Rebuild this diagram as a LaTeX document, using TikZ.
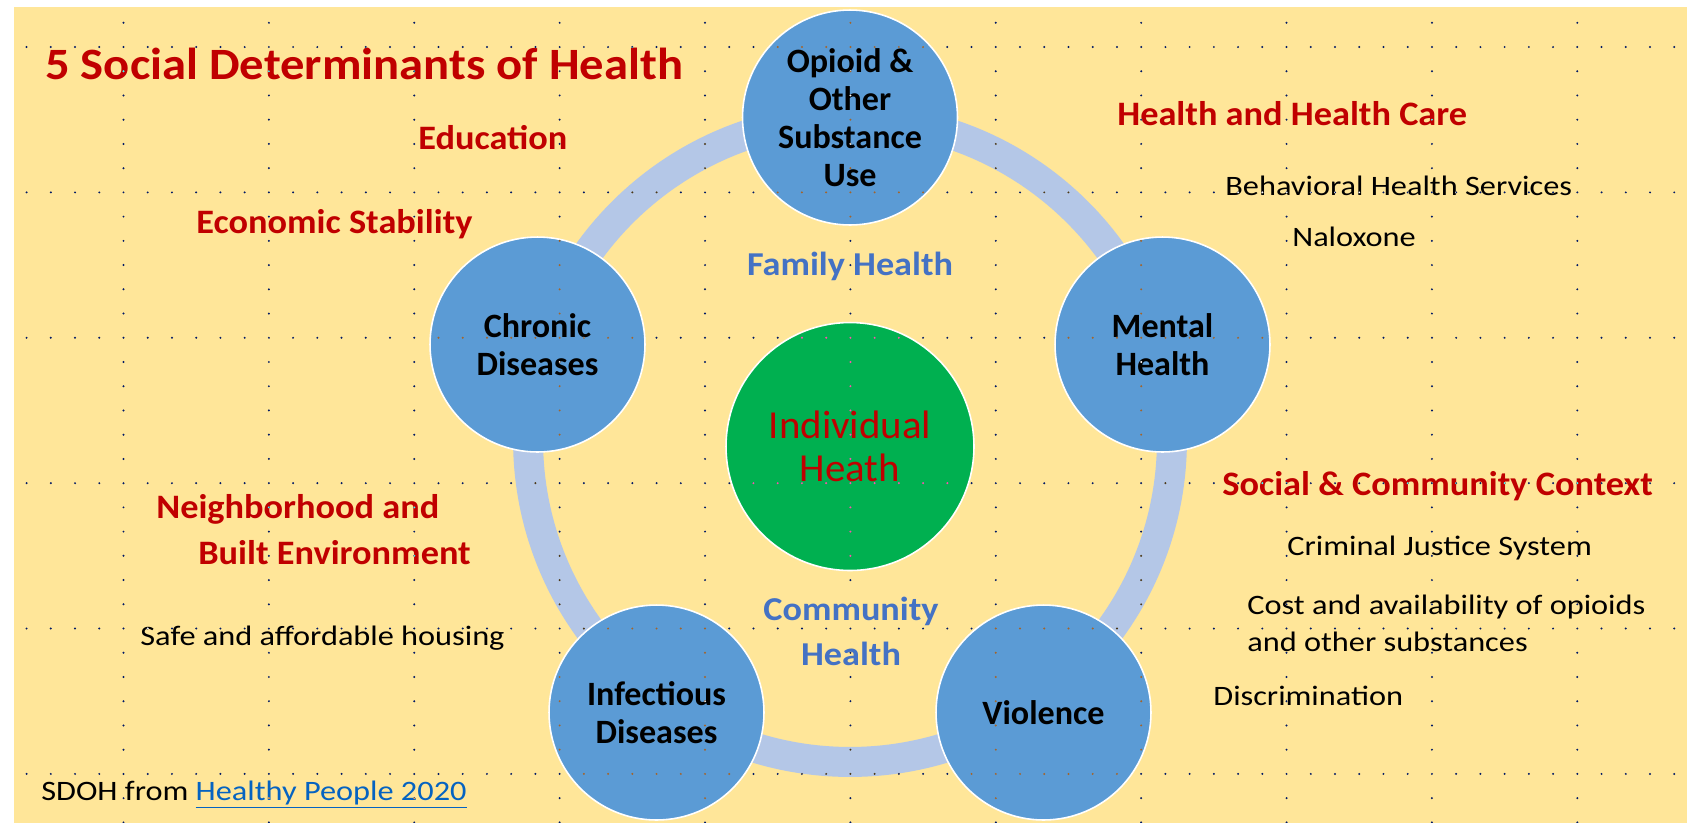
\documentclass[tikz,border=0pt]{standalone}
\usepackage{fontspec}
\setmainfont{Carlito}
\newfontfamily\titlefont[FakeStretch=1.085]{Carlito}
\newfontfamily\labelfont[FakeStretch=1.06]{Carlito}
\newfontfamily\levelfont[FakeStretch=1.085]{Carlito}
\newfontfamily\corefont[FakeStretch=1.03]{Carlito}
\newfontfamily\factorfont[FakeStretch=1.15]{Carlito}
\usetikzlibrary{positioning}
\definecolor{bgyellow}{HTML}{FFE699}
\definecolor{ringblue}{HTML}{B4C7E7}
\definecolor{circblue}{HTML}{5B9BD5}
\definecolor{indgreen}{HTML}{00B050}
\definecolor{sdohred}{HTML}{C00000}
\definecolor{healthblue}{HTML}{4472C4}
\definecolor{linkblue}{HTML}{0563C1}
\tikzset{
  topic/.style={circle, fill=circblue, draw=white, line width=0.9pt,
    minimum size=4.3cm, inner sep=0pt, align=center,
    font=\bfseries\fontsize{19.4}{21.5}\selectfont},
  core/.style={circle, fill=indgreen, draw=white, line width=0.9pt,
    minimum size=4.96cm, inner sep=0pt, align=center, text=sdohred,
    font=\corefont\fontsize{22.6}{24.6}\selectfont},
  determinant/.style={anchor=base west, inner sep=0pt, text=sdohred,
    font=\labelfont\bfseries\fontsize{19.5}{22}\selectfont},
  factor/.style={anchor=base west, inner sep=0pt, align=left,
    font=\factorfont\fontsize{16}{21.3}\selectfont},
  level/.style={anchor=base, inner sep=0pt, align=center, text=healthblue,
    font=\levelfont\bfseries\fontsize{19}{25.4}\selectfont},
  griddot/.style={fill=white},
}
\begin{document}
\begin{tikzpicture}[x=0.02cm, y=-0.02cm]
  \useasboundingbox (0,0) rectangle (1693,823);
  \fill[white] (0,0) rectangle (1693,823);
  \fill[bgyellow] (13.5,6.7) rectangle (1687,823);

  \draw[ringblue, line width=0.6cm] (850,440) circle[radius=6.44cm];

  \node[core] (individual) at (850,446.5) {Individual\\Heath};
  \node[topic] (opioid) at (850,117.5) {Opioid \&\\Other\\Substance\\Use};
  \node[topic] (chronic) at (537.5,344.5) {Chronic\\Diseases};
  \node[topic] (mental) at (1162.5,344.5) {Mental\\Health};
  \node[topic] (infectious) at (656.5,712.5) {Infectious\\Diseases};
  \node[topic] (violence) at (1043.5,712.5) {Violence};

  \node[level] (family) at (850,275) {Family Health};
  \node[level] (community) at (851,665) {Community\\Health};

  \node[determinant, font=\titlefont\bfseries\fontsize{25.5}{28}\selectfont] (title) at (45,79.5)
    {5 Social Determinants of Health};
  \node[determinant] (education) at (418,149) {Education};
  \node[determinant] (economic) at (196,233) {Economic Stability};
  \node[determinant] (neighborhood) at (156,518) {Neighborhood and};
  \node[determinant] (built) at (198,564) {Built Environment};
  \node[factor] (housing) at (140,645) {Safe and affordable housing};

  \node[determinant] (healthcare) at (1117,125) {Health and Health Care};
  \node[factor] (behavioral) at (1225,195) {Behavioral Health Services};
  \node[factor] (naloxone) at (1292,246.5) {Naloxone};

  \node[determinant] (social) at (1222,495) {Social \& Community Context};
  \node[factor] (justice) at (1287,555) {Criminal Justice System};
  \node[factor] (cost) at (1247,651.5) {Cost and availability of opioids\\and other substances};
  \node[factor] (discrimination) at (1213,705) {Discrimination};

  \node[factor] (source) at (41,800)
    {SDOH from \textcolor{linkblue}{\underline{Healthy People 2020}}};

  % grid dots
  \begin{scope}[blend mode=difference]
    \foreach \r in {0,...,5}
      \foreach \j in {-4,...,64}
        \fill[griddot] (123.5+24.23*\j, 47+145.38*\r) circle[radius=0.022cm];
    \foreach \c in {0,...,10}
      \foreach \r in {-1,...,5}
        \foreach \k in {1,...,5}
          \fill[griddot] (123.5+145.38*\c, 47+145.38*\r+24.23*\k) circle[radius=0.022cm];
  \end{scope}
\end{tikzpicture}
\end{document}
